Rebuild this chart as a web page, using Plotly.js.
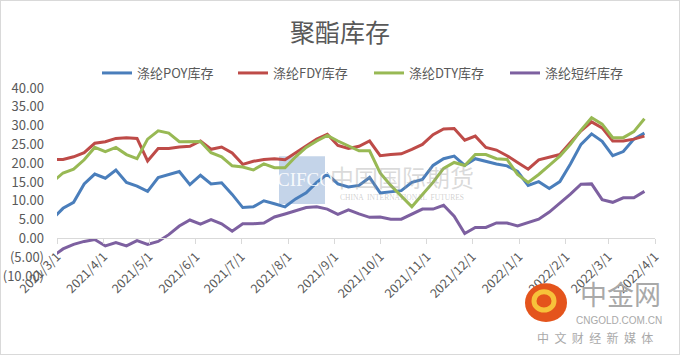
<!DOCTYPE html>
<html><head><meta charset="utf-8">
<script src="https://cdn.plot.ly/plotly-3.0.1.min.js"></script>
<style>
html,body{margin:0;padding:0;background:#fff;}
#wrap{position:relative;width:680px;height:355px;}
#chart{width:680px;height:355px;}
#frame{position:absolute;left:0;top:0;width:678px;height:353px;border:1px solid #d9d9d9;pointer-events:none;}
</style></head>
<body><div id="wrap"><div id="chart"></div><div id="frame"></div></div>
<script>
const dates = ["2021-02-26","2021-03-05","2021-03-12","2021-03-19","2021-03-26","2021-04-02","2021-04-09","2021-04-16","2021-04-23","2021-04-30",
"2021-05-07","2021-05-14","2021-05-21","2021-05-28","2021-06-04","2021-06-11","2021-06-18","2021-06-25","2021-07-02","2021-07-09",
"2021-07-16","2021-07-23","2021-07-30","2021-08-06","2021-08-13","2021-08-20","2021-08-27","2021-09-03","2021-09-10","2021-09-17",
"2021-09-24","2021-10-01","2021-10-08","2021-10-15","2021-10-22","2021-10-29","2021-11-05","2021-11-12","2021-11-19","2021-11-26",
"2021-12-03","2021-12-10","2021-12-17","2021-12-24","2021-12-31","2022-01-07","2022-01-14","2022-01-21","2022-01-28","2022-02-04",
"2022-02-11","2022-02-18","2022-02-25","2022-03-04","2022-03-11","2022-03-18","2022-03-25"];

const poy = [5.2,8.0,9.6,14.5,17.1,16.0,18.2,14.9,13.9,12.5,16.2,17.0,17.8,14.3,16.8,14.5,14.8,11.7,8.2,8.4,10.0,9.2,8.4,10.5,12.1,14.9,17.1,
14.5,13.7,14.1,16.2,12.1,12.5,12.7,14.9,15.7,19.4,21.2,21.9,19.4,21.2,20.4,19.8,19.3,17.8,14.1,15.1,13.3,15.1,19.8,25.0,27.8,25.8,22.0,23.1,26.4,28.0];
const fdy = [21.0,21.0,21.7,22.8,25.3,25.7,26.6,26.8,26.6,20.6,23.9,23.9,24.3,24.5,25.9,23.7,24.3,22.7,19.7,20.5,21.0,21.2,20.9,22.7,24.7,26.4,27.7,
24.7,23.9,24.5,25.9,22.0,22.3,22.5,23.7,25.0,27.6,29.1,29.2,26.1,27.2,24.2,23.5,22.0,20.2,18.4,20.9,21.5,22.3,25.5,28.6,31.0,29.4,25.9,25.9,26.4,27.2];
const dty = [15.0,17.4,18.4,20.9,24.2,23.1,24.2,22.3,21.2,26.4,28.6,28.0,25.7,25.7,25.8,22.8,21.7,19.3,19.0,18.2,19.8,18.8,18.8,21.7,24.2,25.9,27.4,
25.9,24.5,23.3,23.3,17.4,14.1,11.3,8.4,11.7,14.9,18.6,20.2,19.4,22.3,22.3,21.2,21.0,17.0,14.9,17.0,19.4,21.9,25.0,28.8,32.1,30.4,26.8,26.8,28.4,31.8];
const staple = [-4.8,-2.8,-1.6,-0.8,-0.3,-2.0,-1.1,-2.0,-0.6,-1.6,-0.8,1.0,3.3,4.9,3.8,5.0,3.9,1.9,3.9,3.9,4.1,5.7,6.5,7.3,8.2,8.4,7.8,
6.4,7.6,6.5,5.6,5.7,5.1,5.1,6.5,7.8,7.8,8.8,5.9,1.3,2.9,2.9,4.1,4.1,3.3,4.1,5.1,7.0,9.3,11.8,14.4,14.5,10.3,9.6,10.8,10.8,12.5];

const seriesNames = ["涤纶POY库存","涤纶FDY库存","涤纶DTY库存","涤纶短纤库存"];
const seriesColors = ["#4a7ebb","#be4b48","#98b954","#7d60a0"];
const xTickVals = ["2021-03-01","2021-04-01","2021-05-01","2021-06-01","2021-07-01","2021-08-01","2021-09-01","2021-10-01","2021-11-01","2021-12-01","2022-01-01","2022-02-01","2022-03-01","2022-04-01"];
const xTickText = ["2021/3/1","2021/4/1","2021/5/1","2021/6/1","2021/7/1","2021/8/1","2021/9/1","2021/10/1","2021/11/1","2021/12/1","2022/1/1","2022/2/1","2022/3/1","2022/4/1"];
const yTickVals = [-10,-5,0,5,10,15,20,25,30,35,40];
const yTickText = ["(10.00)","(5.00)","0.00","5.00","10.00","15.00","20.00","25.00","30.00","35.00","40.00"];

const allY = [poy, fdy, dty, staple];
const FONT = "'Noto Sans CJK SC', 'Noto Sans', sans-serif";
const GRAY = "#595959";

const traces = allY.map((ys, i) => ({
  type: "scatter", mode: "lines", x: dates, y: ys, name: seriesNames[i],
  line: {color: seriesColors[i], width: 3}, hoverinfo: "skip"
}));

// pixel -> paper helpers (plot area: x 57..655, y 72..276)
const L = 57, R = 25, T = 72, B = 79, W = 680, H = 355;
const pw = W - L - R, ph = H - T - B;
const px = v => (v - L) / pw;
const py = v => (H - B - v) / ph;
const NB = "\u00a0\u00a0";

const layout = {
  width: W, height: H, autosize: false,
  margin: {l: L, r: R, t: T, b: B, pad: 0},
  paper_bgcolor: "#ffffff", plot_bgcolor: "rgba(0,0,0,0)",
  font: {family: FONT, color: GRAY, size: 13},
  title: {text: "聚酯库存", font: {size: 25, color: GRAY, family: FONT}, x: 0.5, xref: "container", xanchor: "center", y: 1 - 33 / H, yref: "container", yanchor: "middle"},
  showlegend: true,
  legend: {orientation: "h", xref: "container", yref: "container", x: 97 / W, xanchor: "left", y: 1 - 73 / H, yanchor: "middle",
    entrywidth: 91, entrywidthmode: "pixels", bgcolor: "rgba(0,0,0,0)", font: {size: 13, color: GRAY, family: FONT}, traceorder: "normal"},
  xaxis: {type: "date", range: ["2021-03-01", "2022-04-01"], anchor: "free", position: 0.2,
    tickmode: "array", tickvals: xTickVals, ticktext: xTickText, tickangle: -45,
    ticks: "outside", ticklen: 5, tickcolor: "#d9d9d9", showline: true, linecolor: "#d9d9d9", linewidth: 1,
    showgrid: false, zeroline: false, tickfont: {size: 12.5, color: GRAY, family: FONT}},
  yaxis: {range: [-10, 40], tickmode: "array", tickvals: yTickVals, ticktext: yTickText,
    showgrid: false, zeroline: false, showline: false, ticks: "", ticklabelstandoff: 12,
    tickfont: {size: 13, color: GRAY, family: FONT}},
  shapes: [
    {type: "rect", xref: "paper", yref: "paper", x0: px(279), x1: px(325), y0: py(198), y1: py(146), fillcolor: "rgba(176,198,225,0.75)", line: {width: 0}, layer: "below"},
    {type: "circle", xref: "paper", yref: "paper", x0: px(525), x1: px(567), y0: py(326), y1: py(284), fillcolor: "#e4541c", line: {width: 0}, layer: "above"},
    {type: "circle", xref: "paper", yref: "paper", x0: px(534), x1: px(554), y0: py(313), y1: py(293), fillcolor: "rgba(0,0,0,0)", line: {width: 5, color: "#f7c23a"}, layer: "above"}
  ],
  annotations: [
    {text: "CIFCO", xref: "paper", yref: "paper", x: px(305), y: py(171), xanchor: "center", yanchor: "middle", showarrow: false, font: {family: "'Liberation Serif', serif", size: 19, color: "rgba(255,255,255,0.9)"}},
    {text: "中国国际期货", xref: "paper", yref: "paper", x: px(402), y: py(168), xanchor: "center", yanchor: "middle", showarrow: false, font: {family: FONT, size: 24, color: "rgba(150,150,150,0.35)"}},
    {text: "CHINA  INTERNATIONAL  FUTURES", xref: "paper", yref: "paper", x: px(402), y: py(191), xanchor: "center", yanchor: "middle", showarrow: false, font: {family: "'Liberation Serif', serif", size: 7.5, color: "rgba(150,150,150,0.45)"}},
    {text: "中金网", xref: "paper", yref: "paper", x: px(620), y: py(295), xanchor: "center", yanchor: "middle", showarrow: false, font: {family: FONT, size: 27, color: "#a9a9a9"}},
    {text: "CNGOLD.COM.CN", xref: "paper", yref: "paper", x: px(619), y: py(324), xanchor: "center", yanchor: "middle", showarrow: false, font: {family: "'Liberation Sans', sans-serif", size: 10, color: "#a9a9a9"}},
    {text: ["中","文","财","经","新","媒","体"].join(NB), xref: "paper", yref: "paper", x: px(595), y: py(343), xanchor: "center", yanchor: "middle", showarrow: false, font: {family: FONT, size: 12, color: "#a9a9a9"}}
  ]
};

Plotly.newPlot("chart", traces, layout, {staticPlot: true, displayModeBar: false});
</script></body></html>
